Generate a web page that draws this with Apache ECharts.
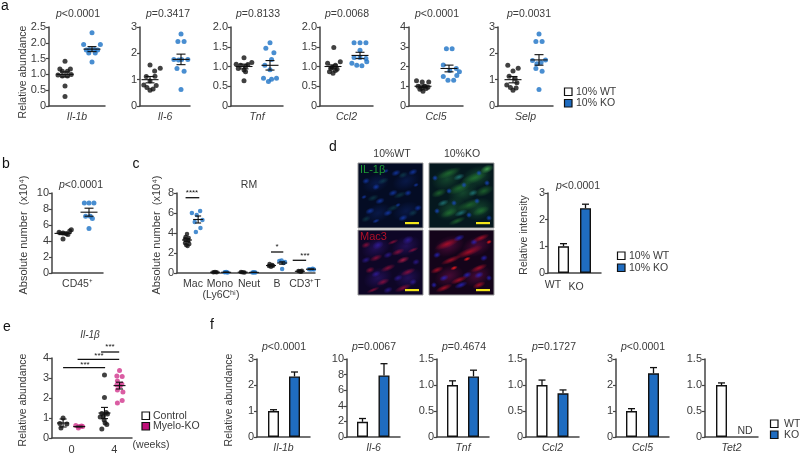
<!DOCTYPE html>
<html><head><meta charset="utf-8">
<style>html,body{margin:0;padding:0;background:#fff}#c{width:800px;height:455px}</style>
<script src="https://cdn.jsdelivr.net/npm/echarts@6/dist/echarts.min.js"></script></head>
<body><div id="c"></div>
<script>
// ---------- DATA : [jitter, value] ----------
const aIl1bWT=[[0,1.42],[-.19,1.17],[.2,1.17],[-.1,1.1],[.09,1.1],[-.26,.98],[-.1,.95],[.09,.95],[.23,1.0],[0,.63],[0,.3]];
const aIl1bKO=[[0,2.32],[.31,1.95],[-.31,1.95],[-.09,1.79],[.09,1.79],[-.21,1.77],[.21,1.77],[-.12,1.68],[.12,1.68],[0,1.39]];
const aIl6WT=[[0,1.56],[.33,1.43],[.15,1.33],[-.12,1.12],[.16,1.13],[0,.95],[-.2,.8],[.2,.78],[-.1,.7],[.1,.65],[0,.6]];
const aIl6KO=[[0,2.73],[-.1,2.45],[.1,2.45],[-.23,1.77],[-.08,1.75],[.02,1.77],[.22,1.77],[-.13,1.42],[.1,1.32],[0,.63]];
const aTnfWT=[[0,1.22],[-.3,1.06],[-.13,1.03],[.15,1.05],[.3,1.1],[-.22,.95],[.06,1.0],[0,.91],[.06,.87],[0,.64]];
const aTnfKO=[[0,1.6],[-.16,1.46],[.15,1.35],[.06,1.18],[-.2,1.03],[0,.92],[-.25,.7],[-.06,.62],[.06,.68],[.25,.7]];
const aCcl2WT=[[.03,1.48],[-.2,1.08],[.27,1.12],[.09,1.03],[-.08,.95],[-.13,.87],[.09,.9],[0,.83],[.15,.93],[-.03,.98]];
const aCcl2KO=[[-.22,1.6],[0,1.6],[.22,1.6],[0,1.41],[-.22,1.23],[0,1.23],[.22,1.2],[-.3,1.08],[-.12,1.03],[.07,1.02],[.25,1.12]];
const aCcl5WT=[[-.25,1.28],[-.03,1.22],[.22,1.22],[-.19,1.0],[.06,1.0],[.19,.95],[-.12,.85],[.0,.75],[.12,.88],[-.05,.9]];
const aCcl5KO=[[-.1,2.9],[.12,2.9],[-.22,2.07],[.28,1.9],[.4,1.73],[-.22,1.5],[-.04,1.3],[.18,1.3],[.03,1.8],[.3,1.55]];
const aSelpWT=[[-.2,1.55],[.2,1.43],[0,1.33],[-.15,1.13],[.08,1.04],[-.24,.8],[.15,.88],[-.1,.7],[.12,.68],[0,.6]];
const aSelpKO=[[0,2.73],[-.12,2.45],[.12,2.45],[-.25,1.73],[-.08,1.6],[.08,1.65],[.25,1.75],[-.12,1.42],[.12,1.32],[0,.63]];
const bWT=[[0,4.25],[-.15,5.1],[0,5.0],[.13,4.9],[.26,5.25],[.32,5.4],[.19,4.8]];
const bKO=[[-.18,8.75],[0,8.75],[.19,8.75],[-.13,7.1],[.13,6.8],[.05,7.1],[0,5.55]];
const cMacWT=[[0,3.9],[-.05,3.6],[.06,3.5],[-.07,3.4],[.05,3.2],[-.07,3.0],[.08,2.9],[-.03,2.8],[.02,2.7]];
const cMacKO=[[-.22,6.0],[-.05,5.8],[.07,6.2],[-.12,5.1],[.15,5.3],[-.08,4.1],[.08,4.5]];
const cMonoWT=[[-.06,.08],[0,.1],[.06,.07]], cMonoKO=[[-.05,.07],[0,.09],[.05,.06]];
const cNeutWT=[[-.06,.1],[0,.08],[.06,.06]], cNeutKO=[[-.05,.05],[0,.08],[.05,.06]];
const cBWT=[[-.05,.9],[.04,.8],[-.07,.7],[.07,.72],[0,.62]], cBKO=[[-.1,1.2],[.1,1.1],[-.02,1.25],[.05,1.0],[0,.4]];
const cTWT=[[-.05,.2],[.04,.12],[.07,.22],[0,.17]], cTKO=[[-.07,.38],[.06,.42],[0,.35],[.1,.36]];
const eCtrl0=[[0,1.0],[.35,.7],[-.2,.5],[-.3,.72]];
const eKo0=[[-.32,.62],[0,.58],[.32,.57],[-.08,.5],[.22,.6]];
const eCtrl4=[[0,3.15],[0,2.02],[-.25,.45],[.22,.68],[-.25,1.23],[.16,1.27],[-.1,1.1],[.28,1.2],[-.4,1.05],[-.03,.9],[.06,.75]];
const eKo4=[[0,3.37],[-.25,3.1],[.25,3.07],[-.2,2.85],[.22,2.7],[-.25,2.65],[.06,2.6],[-.2,2.4],[.32,2.3],[.25,1.87],[-.2,1.75]];
// mean and SEM per group
const aMeans=[[1.0,.08,1.8,.08],[1.0,.12,1.77,.2],[1.0,.06,1.03,.12],[1.0,.04,1.28,.08],[1.0,.06,1.9,.17],[1.0,.12,1.75,.2]];
const bMean=[4.95,.15,7.6,.5];
const cMeans=[[3.3,.14,5.35,.35],[.08,.01,.07,.01],[.08,.01,.06,.01],[.75,.05,1.0,.12],[.17,.02,.38,.02]];
const eMeans=[[.75,.2],[.57,.02],[1.25,.28],[2.62,.17]];
const eGroupX=[-.79,.72,3.09,4.5];
// bar panels [value, upper error end]
const dBars=[[1.0,1.1],[2.43,2.58]];
const fIl1b=[[1.0,1.05],[2.33,2.5]];
const fIl6=[[1.95,2.37],[7.9,9.4]];
const fTnf=[[1.0,1.08],[1.165,1.285]];
const fCcl2=[[1.0,1.095],[.84,.905]];
const fCcl5=[[1.0,1.09],[2.45,2.67]];
const fTet2=[[1.0,1.04]];
const aGenes=['Il-1b','Il-6','Tnf','Ccl2','Ccl5','Selp'];
const aPvals=['<0.0001','=0.3417','=0.8133','=0.0068','<0.0001','=0.0031'];
const fGenes=['Il-1b','Il-6','Tnf','Ccl2','Ccl5','Tet2'];
const fPvals=['<0.0001','=0.0067','=0.4674','=0.1727','<0.0001',''];
const cCells=['Mac','Mono','Neut','B','CD3\u207AT'];

// ---------- STYLE ----------
const FONT='"Liberation Sans", Arial, sans-serif', INK='#3a3a3a', AX='#444';
const BLUE='#1f6cc0', DOT='#1c72c6', PINK='#d1348c', MAG='#c0107a', BLACK='#111';
const grid=[],xAxis=[],yAxis=[],series=[],graphic=[];

function txt(x,y,text,o){o=o||{};graphic.push({type:'text',x:x,y:y,rotation:o.rot||0,silent:true,z:20,style:{text:text,
  fontFamily:FONT,fontSize:o.size||10.5,fontStyle:o.italic?'italic':'normal',fill:o.color||INK,align:o.align||'center',verticalAlign:'middle'}});}
function ytitle(x,y,text,size){txt(x,y,text,{rot:Math.PI/2,size:size||10.5});}
function pval(x,y,v){graphic.push({type:'text',x:x,y:y,silent:true,z:20,style:{text:'{i|p}{n|'+v+'}',align:'center',verticalAlign:'middle',
  rich:{i:{fontFamily:FONT,fontSize:10.5,fontStyle:'italic',fill:INK},n:{fontFamily:FONT,fontSize:10.5,fill:INK}}}});}
function legend(x,y1,y2,a,b,c2,tx){
  [[y1,'#fff',a],[y2,c2,b]].forEach(r=>{
    graphic.push({type:'rect',x:x,y:r[0],shape:{width:7.5,height:7.5},silent:true,style:{fill:r[1],stroke:BLACK,lineWidth:1.2}});
    txt(tx,r[0]+4,r[2],{align:'left'});});
}
function addAxes(g,xMin,xMax,yMax,step,dec,xName,xGap,extraX){
  const i=grid.length;
  grid.push({left:g[0],top:g[1],width:g[2],height:g[3],containLabel:false});
  xAxis.push(Object.assign({type:'value',gridIndex:i,min:xMin,max:xMax,splitLine:{show:false},axisTick:{show:false},
    axisLabel:{show:false},axisLine:{onZero:false,lineStyle:{color:AX,width:1.5}},
    name:xName||'',nameLocation:'middle',nameGap:xGap||5,nameTextStyle:{fontFamily:FONT,fontSize:10.5,fontStyle:'italic',color:INK}},extraX||{}));
  yAxis.push({type:'value',gridIndex:i,min:0,max:yMax,interval:step,splitLine:{show:false},
    axisTick:{length:3,lineStyle:{color:AX,width:1.2}},axisLine:{show:true,onZero:false,lineStyle:{color:AX,width:1.5}},
    axisLabel:{margin:3,fontFamily:FONT,fontSize:11,color:INK,formatter:v=>v===0?'0':v.toFixed(dec)}});
  return i;
}
function dots(i,name,pts,gx,color,size){
  series.push({type:'scatter',name:name,xAxisIndex:i,yAxisIndex:i,symbolSize:size||5,z:3,clip:false,silent:true,
    itemStyle:{color:color},data:pts.map(p=>[gx+p[0],p[1]])});
}
function whiskers(i,rows,hw,cw){ // rows: [x, mean, sem]
  series.push({type:'custom',name:'mean and SEM',xAxisIndex:i,yAxisIndex:i,z:5,clip:false,silent:true,data:rows,
    renderItem:(p,api)=>{
      const m=api.coord([api.value(0),api.value(1)]),t=api.coord([api.value(0),api.value(1)+api.value(2)]),b=api.coord([api.value(0),api.value(1)-api.value(2)]);
      const st={stroke:BLACK,lineWidth:1.1,fill:null};
      const ln=(x1,y1,x2,y2)=>({type:'line',shape:{x1,y1,x2,y2},style:st});
      return {type:'group',children:[ln(m[0]-hw,m[1],m[0]+hw,m[1]),ln(t[0],t[1],b[0],b[1]),ln(t[0]-cw,t[1],t[0]+cw,t[1]),ln(b[0]-cw,b[1],b[0]+cw,b[1])]};
    }});
}
function bars(i,rows,wtName,koName,barW){
  const mk=(name,idx,fill)=>{ if(!rows[idx])return;
    series.push({type:'bar',name:name,xAxisIndex:i,yAxisIndex:i,barWidth:barW||11,barGap:'-100%',silent:true,z:2,
      itemStyle:{color:fill,borderColor:BLACK,borderWidth:1.4},data:[[idx+1,rows[idx][0]]]});};
  mk(wtName,0,'#fff');mk(koName,1,BLUE);
  series.push({type:'custom',name:'error',xAxisIndex:i,yAxisIndex:i,z:1,clip:false,silent:true,data:rows.map((r,k)=>[k+1,r[0],r[1]]),
    renderItem:(p,api)=>{
      const a=api.coord([api.value(0),api.value(1)]),t=api.coord([api.value(0),api.value(2)]);
      const st={stroke:BLACK,lineWidth:1.3,fill:null};
      return {type:'group',children:[{type:'line',shape:{x1:t[0],y1:a[1],x2:t[0],y2:t[1]},style:st},
        {type:'line',shape:{x1:t[0]-3.5,y1:t[1],x2:t[0]+3.5,y2:t[1]},style:st}]};
    }});
}
function sig(i,rows){ // rows: [x1, x2, y]
  series.push({type:'custom',name:'significance',xAxisIndex:i,yAxisIndex:i,clip:false,silent:true,z:4,data:rows,
    renderItem:(p,api)=>{
      const a=api.coord([api.value(0),api.value(2)]),b=api.coord([api.value(1),api.value(2)]);
      return {type:'line',shape:{x1:a[0],y1:a[1],x2:b[0],y2:b[1]},style:{stroke:BLACK,lineWidth:1.3,fill:null}};
    }});
}
function xr(w,o1,o2){const s=o2-o1;return [1-o1/s,1+(w-o1)/s];}

// ---------- PANEL a ----------
const aData=[[aIl1bWT,aIl1bKO],[aIl6WT,aIl6KO],[aTnfWT,aTnfKO],[aCcl2WT,aCcl2KO],[aCcl5WT,aCcl5KO],[aSelpWT,aSelpKO]];
const aLay=[[49,56,16,43,2.5,.5,1,78],[140,50,10,41,3,1,0,168],[231,52,13,39,2,.5,1,258],[320,53,13,40,2,.5,1,347],[409,54,14,40,4,1,0,437],[498,55,15,41,3,1,0,529]];
aLay.forEach((l,k)=>{
  const r=xr(l[1],l[2],l[3]);
  const i=addAxes([l[0],27,l[1],79],r[0],r[1],l[4],l[5],l[6],aGenes[k],6);
  dots(i,'10% WT',aData[k][0],1,BLACK);dots(i,'10% KO',aData[k][1],2,DOT);
  const m=aMeans[k];whiskers(i,[[1,m[0],m[1]],[2,m[2],m[3]]],8.5,4.5);
  pval(l[7],14,aPvals[k]);
});
ytitle(23,72,'Relative abundance');
legend(564.5,88,99.5,'10% WT','10% KO',BLUE,576);

// ---------- PANEL b ----------
{const r=xr(51,11,37);
 const i=addAxes([52,193,51,80],r[0],r[1],10,2,0,'CD45\u207A',6);
 xAxis[i].nameTextStyle.fontStyle='normal';
 dots(i,'10% WT',bWT,1,BLACK);dots(i,'10% KO',bKO,2,DOT);
 whiskers(i,[[1,bMean[0],bMean[1]],[2,bMean[2],bMean[3]]],8.5,4.5);
 pval(81,185,'<0.0001');
 ytitle(24,235,'Absolute number  (x10\u2074)',11);}

// ---------- PANEL c ----------
{const i=addAxes([177,193,138,80],.65,5.48,8,2,0,'');
 const wt=[cMacWT,cMonoWT,cNeutWT,cBWT,cTWT],ko=[cMacKO,cMonoKO,cNeutKO,cBKO,cTKO],rows=[];
 const px=[1,1.98,2.95,3.94,4.95];
 wt.forEach((d,g)=>{dots(i,'10% WT',d,px[g],BLACK,4.5);dots(i,'10% KO',ko[g],px[g]+.39,DOT,4.5);
   rows.push([px[g],cMeans[g][0],cMeans[g][1]]);rows.push([px[g]+.39,cMeans[g][2],cMeans[g][3]]);});
 whiskers(i,rows,5,3);
 sig(i,[[.95,1.43,7.53],[3.94,4.37,2.1],[4.7,5.17,1.27]]);
 txt(192,193,'****',{size:8,color:BLACK});txt(277,247,'*',{size:8,color:BLACK});txt(305,256,'***',{size:8,color:BLACK});
 txt(249,185,'RM');
 [193,220,249,277,305].forEach((x,k)=>txt(x,284,cCells[k]));
 txt(221,295,'(Ly6C\u02B0\u2071)');
 ytitle(157,235,'Absolute number  (x10\u2074)',11);}

// ---------- PANEL d images (decorative micrograph stand-ins) ----------
const imgWtGreen={base:'#040c24',sets:[
 {c:'#12308a',a:.35,b:[[18,20,14,9],[48,18,14,9],[20,50,14,9],[48,48,14,9]]},
 {c:'#1848d8',a:.65,b:[[18,24,4,3],[38,10,5,3],[55,9,5,3],[12,48,5,3],[30,50,5,3],[45,55,5,3],[22,38,5,3],[50,30,4,3],[8,18,4,3],[60,45,4,3],[35,30,5,3],[28,8,3,2],[6,34,3,2],[58,22,3,2],[18,58,4,2],[40,42,3,2]]},
 {c:'#1a7a78',a:.35,b:[[42,32,7,3],[25,18,6,3],[15,35,6,3],[45,12,5,3],[35,45,7,3],[55,50,5,3],[8,56,5,3]]}]};
const imgKoGreen={base:'#05181e',sets:[
 {c:'#1f6a38',a:.55,b:[[18,16,16,11],[48,14,16,11],[22,46,16,11],[50,46,15,11],[34,30,16,10]]},
 {c:'#2a8a34',a:.6,b:[[45,15,15,5],[20,10,13,4],[30,25,13,5],[55,28,10,5],[10,30,8,4],[40,42,13,5],[20,50,9,4],[52,48,9,4],[28,58,9,3]]},
 {c:'#45b050',a:.85,b:[[58,6,7,4]]},
 {c:'#2aa0a0',a:.6,b:[[32,50,7,3],[14,40,6,3],[44,30,5,3],[30,14,6,3]]},
 {c:'#1a50e0',a:.75,b:[[8,48,3,3],[40,52,3,3],[48,38,3,3],[58,20,3,3],[20,28,3,3],[35,22,3,3],[6,15,3,3],[60,55,3,3],[25,40,3,3],[50,10,3,3]]}]};
const imgWtRed={base:'#0e0626',sets:[
 {c:'#3a1c90',a:.45,b:[[18,18,15,10],[48,16,15,10],[20,48,15,10],[50,48,14,10]]},
 {c:'#3a22c0',a:.6,b:[[20,15,6,4],[50,10,6,4],[30,25,5,3],[8,30,5,3],[40,48,5,3],[18,44,5,3],[58,32,4,3],[30,60,5,3],[55,52,4,3]]},
 {c:'#b81040',a:.65,b:[[40,22,7,3],[18,28,7,3],[12,40,5,3],[30,38,8,3],[50,42,8,3],[25,52,7,3],[45,58,9,3],[55,20,6,2],[8,15,5,3],[35,12,6,2],[15,60,7,2]]},
 {c:'#e02050',a:.7,b:[[45,30,7,3]]}]};
const imgKoRed={base:'#14041a',sets:[
 {c:'#7a1050',a:.5,b:[[20,16,16,10],[48,16,16,10],[20,46,15,10],[48,46,15,10]]},
 {c:'#2a28d8',a:.75,b:[[30,8,6,3],[8,25,4,3],[45,12,4,3],[55,28,4,3],[38,45,5,3],[15,48,5,3],[32,55,7,3],[50,45,5,3],[60,48,3,3],[5,55,3,3]]},
 {c:'#c81028',a:.75,b:[[18,14,13,4],[40,22,15,4],[52,8,9,3],[22,30,11,3],[50,38,9,3],[8,40,7,3],[30,50,9,3],[50,55,7,3],[15,58,9,3]]},
 {c:'#ff1a1a',a:.95,b:[[38,29,4,2],[25,38,4,2],[60,12,3,2]]}]};
function hexA(c,a){const n=parseInt(c.slice(1),16);return 'rgba('+(n>>16)+','+((n>>8)&255)+','+(n&255)+','+a+')';}
function micro(x,y,im){
  graphic.push({type:'rect',x:x,y:y,shape:{width:65,height:65},silent:true,style:{fill:im.base,stroke:'#999',lineWidth:1}});
  im.sets.forEach(s=>s.b.forEach(b=>{
    graphic.push({type:'circle',x:x+b[0],y:y+b[1],rotation:.38,scaleX:b[2]/b[3],scaleY:1,silent:true,shape:{cx:0,cy:0,r:b[3]},
      style:{fill:{type:'radial',x:.5,y:.5,r:.5,colorStops:[{offset:0,color:hexA(s.c,s.a)},{offset:.5,color:hexA(s.c,s.a*.5)},{offset:1,color:hexA(s.c,0)}]}}});
  }));
}
micro(358,163,imgWtGreen);micro(429,163,imgKoGreen);micro(358,230,imgWtRed);micro(429,230,imgKoRed);
[[405,222],[476,222],[405,289],[476,289]].forEach(p=>graphic.push({type:'rect',x:p[0],y:p[1],z:10,silent:true,shape:{width:14,height:2.2},style:{fill:'#f2e51a'}}));
txt(392,154,'10%WT');txt(462,154,'10%KO');
txt(360,170,'IL-1\u03B2',{align:'left',color:'#1f9a35',size:11});
txt(360,237,'Mac3',{align:'left',color:'#b01028',size:11});

// ---------- PANEL d bars ----------
{const r=xr(53,15.5,37.5);
 const i=addAxes([548,193,53,80],r[0],r[1],3,1,0,'');
 bars(i,dBars,'10% WT','10% KO',11);
 pval(578,186,'<0.0001');txt(553,285,'WT');txt(576,287,'KO');
 ytitle(524,235,'Relative intensity');}
legend(617.5,252,264,'10% WT','10% KO',BLUE,629);

// ---------- PANEL e ----------
{const i=addAxes([52,358,80,80],-1.83,5.67,4,1,0,'',5,
  {axisLabel:{show:true,customValues:[0,4],margin:6,fontFamily:FONT,fontSize:11,color:INK}});
 dots(i,'Control',eCtrl0,eGroupX[0],BLACK);dots(i,'Myelo-KO',eKo0,eGroupX[1],PINK);
 dots(i,'Control',eCtrl4,eGroupX[2],BLACK);dots(i,'Myelo-KO',eKo4,eGroupX[3],PINK);
 whiskers(i,eGroupX.map((x,k)=>[x,eMeans[k][0],eMeans[k][1]]),6,3.5);
 sig(i,[[2.77,4.47,4.3],[.57,4.47,3.93],[-.79,3.15,3.52]]);
 txt(110,347,'***',{size:8,color:BLACK});txt(99,356,'***',{size:8,color:BLACK});txt(85,365,'***',{size:8,color:BLACK});
 txt(90,335,'Il-1\u03B2',{italic:true,size:10});txt(151,445,'(weeks)');
 ytitle(23,400,'Relative abundance');}
legend(142,412,422.5,'Control','Myelo-KO',MAG,153);

// ---------- PANEL f ----------
const fData=[fIl1b,fIl6,fTnf,fCcl2,fCcl5,fTet2];
const fLay=[[257,53,16.5,37.5,3,1,0,284],[347,53,15.5,37,10,2,0,374],[437,52,15.5,36.5,1.5,.5,1,464],[526,53,16,37,1.5,.5,1,554],[616,53,15.5,37.5,3,1,0,643],[705,53,16.5,37.5,1.5,.5,1,0]];
fLay.forEach((l,k)=>{
  const r=xr(l[1],l[2],l[3]);
  const i=addAxes([l[0],359,l[1],79],r[0],r[1],l[4],l[5],l[6],fGenes[k],6);
  bars(i,fData[k],'WT','KO',11);
  if(fPvals[k])pval(l[7],347,fPvals[k]);
});
ytitle(229,400,'Relative abundance');
txt(745,431,'ND');
legend(770.5,420,431,'WT','KO',BLUE,784);

// ---------- panel letters ----------
[['a',5,6],['b',6,164],['c',136,164],['d',333,147],['e',7,327],['f',212,325]].forEach(p=>txt(p[1],p[2],p[0],{size:14,color:'#111'}));

echarts.init(document.getElementById('c'),null,{renderer:'canvas'}).setOption({animation:false,backgroundColor:'#fff',
  grid,xAxis,yAxis,series,graphic:{elements:graphic}});
</script></body></html>
